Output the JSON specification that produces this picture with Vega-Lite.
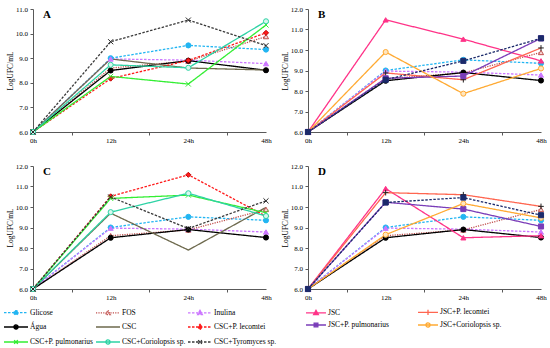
{
"$schema": "https://vega.github.io/schema/vega-lite/v6.json",
"padding": {"left": 6, "top": 5, "right": 5, "bottom": 0},
"background": "white",
"datasets": {"d": [
{"p":"all","s":"Glicose","h":"0h","v":6},{"p":"all","s":"Glicose","h":"12h","v":9.0},{"p":"all","s":"Glicose","h":"24h","v":9.52},{"p":"all","s":"Glicose","h":"48h","v":9.35},
{"p":"all","s":"FOS","h":"0h","v":6},{"p":"all","s":"FOS","h":"12h","v":8.6},{"p":"all","s":"FOS","h":"24h","v":8.88},{"p":"all","s":"FOS","h":"48h","v":9.88},
{"p":"all","s":"Inulina","h":"0h","v":6},{"p":"all","s":"Inulina","h":"12h","v":8.97},{"p":"all","s":"Inulina","h":"24h","v":8.92},{"p":"all","s":"Inulina","h":"48h","v":8.78},
{"p":"all","s":"Água","h":"0h","v":6},{"p":"all","s":"Água","h":"12h","v":8.5},{"p":"all","s":"Água","h":"24h","v":8.9},{"p":"all","s":"Água","h":"48h","v":8.51},
{"p":"A","s":"CSC","h":"0h","v":6},{"p":"A","s":"CSC","h":"12h","v":8.97},{"p":"A","s":"CSC","h":"24h","v":8.6},{"p":"A","s":"CSC","h":"48h","v":8.52},
{"p":"A","s":"CSC+P. lecomtei","h":"0h","v":6},{"p":"A","s":"CSC+P. lecomtei","h":"12h","v":8.17},{"p":"A","s":"CSC+P. lecomtei","h":"24h","v":8.91},{"p":"A","s":"CSC+P. lecomtei","h":"48h","v":10.03},
{"p":"A","s":"CSC+P. pulmonarius","h":"0h","v":6},{"p":"A","s":"CSC+P. pulmonarius","h":"12h","v":8.26},{"p":"A","s":"CSC+P. pulmonarius","h":"24h","v":7.95},{"p":"A","s":"CSC+P. pulmonarius","h":"48h","v":10.35},
{"p":"A","s":"CSC+Coriolopsis sp.","h":"0h","v":6},{"p":"A","s":"CSC+Coriolopsis sp.","h":"12h","v":8.73},{"p":"A","s":"CSC+Coriolopsis sp.","h":"24h","v":8.61},{"p":"A","s":"CSC+Coriolopsis sp.","h":"48h","v":10.5},
{"p":"A","s":"CSC+Tyromyces sp.","h":"0h","v":6},{"p":"A","s":"CSC+Tyromyces sp.","h":"12h","v":9.67},{"p":"A","s":"CSC+Tyromyces sp.","h":"24h","v":10.55},{"p":"A","s":"CSC+Tyromyces sp.","h":"48h","v":9.51},
{"p":"C","s":"CSC","h":"0h","v":6},{"p":"C","s":"CSC","h":"12h","v":9.7},{"p":"C","s":"CSC","h":"24h","v":7.9},{"p":"C","s":"CSC","h":"48h","v":9.98},
{"p":"C","s":"CSC+P. lecomtei","h":"0h","v":6},{"p":"C","s":"CSC+P. lecomtei","h":"12h","v":10.52},{"p":"C","s":"CSC+P. lecomtei","h":"24h","v":11.57},{"p":"C","s":"CSC+P. lecomtei","h":"48h","v":9.55},
{"p":"C","s":"CSC+P. pulmonarius","h":"0h","v":6},{"p":"C","s":"CSC+P. pulmonarius","h":"12h","v":10.42},{"p":"C","s":"CSC+P. pulmonarius","h":"24h","v":10.58},{"p":"C","s":"CSC+P. pulmonarius","h":"48h","v":9.72},
{"p":"C","s":"CSC+Coriolopsis sp.","h":"0h","v":6},{"p":"C","s":"CSC+Coriolopsis sp.","h":"12h","v":9.75},{"p":"C","s":"CSC+Coriolopsis sp.","h":"24h","v":10.67},{"p":"C","s":"CSC+Coriolopsis sp.","h":"48h","v":9.56},
{"p":"C","s":"CSC+Tyromyces sp.","h":"0h","v":6},{"p":"C","s":"CSC+Tyromyces sp.","h":"12h","v":10.49},{"p":"C","s":"CSC+Tyromyces sp.","h":"24h","v":8.95},{"p":"C","s":"CSC+Tyromyces sp.","h":"48h","v":10.3},
{"p":"B","s":"JSC","h":"0h","v":6},{"p":"B","s":"JSC","h":"12h","v":11.47},{"p":"B","s":"JSC","h":"24h","v":10.53},{"p":"B","s":"JSC","h":"48h","v":9.47},
{"p":"B","s":"JSC+P. lecomtei","h":"0h","v":6},{"p":"B","s":"JSC+P. lecomtei","h":"12h","v":8.88},{"p":"B","s":"JSC+P. lecomtei","h":"24h","v":8.55},{"p":"B","s":"JSC+P. lecomtei","h":"48h","v":10.1},
{"p":"B","s":"JSC+P. pulmonarius","h":"0h","v":6},{"p":"B","s":"JSC+P. pulmonarius","h":"12h","v":8.62},{"p":"B","s":"JSC+P. pulmonarius","h":"24h","v":8.73},{"p":"B","s":"JSC+P. pulmonarius","h":"48h","v":10.57},
{"p":"B","s":"JSC+Coriolopsis sp.","h":"0h","v":6},{"p":"B","s":"JSC+Coriolopsis sp.","h":"12h","v":9.9},{"p":"B","s":"JSC+Coriolopsis sp.","h":"24h","v":7.87},{"p":"B","s":"JSC+Coriolopsis sp.","h":"48h","v":9.1},
{"p":"B","s":"JSC+Tyromyces sp.","h":"0h","v":6},{"p":"B","s":"JSC+Tyromyces sp.","h":"12h","v":8.55},{"p":"B","s":"JSC+Tyromyces sp.","h":"24h","v":9.47},{"p":"B","s":"JSC+Tyromyces sp.","h":"48h","v":10.57},
{"p":"D","s":"JSC","h":"0h","v":6},{"p":"D","s":"JSC","h":"12h","v":10.9},{"p":"D","s":"JSC","h":"24h","v":8.5},{"p":"D","s":"JSC","h":"48h","v":8.6},
{"p":"D","s":"JSC+P. lecomtei","h":"0h","v":6},{"p":"D","s":"JSC+P. lecomtei","h":"12h","v":10.7},{"p":"D","s":"JSC+P. lecomtei","h":"24h","v":10.6},{"p":"D","s":"JSC+P. lecomtei","h":"48h","v":10.03},
{"p":"D","s":"JSC+P. pulmonarius","h":"0h","v":6},{"p":"D","s":"JSC+P. pulmonarius","h":"12h","v":10.23},{"p":"D","s":"JSC+P. pulmonarius","h":"24h","v":9.9},{"p":"D","s":"JSC+P. pulmonarius","h":"48h","v":9.05},
{"p":"D","s":"JSC+Coriolopsis sp.","h":"0h","v":6},{"p":"D","s":"JSC+Coriolopsis sp.","h":"12h","v":8.65},{"p":"D","s":"JSC+Coriolopsis sp.","h":"24h","v":10.17},{"p":"D","s":"JSC+Coriolopsis sp.","h":"48h","v":9.47},
{"p":"D","s":"JSC+Tyromyces sp.","h":"0h","v":6},{"p":"D","s":"JSC+Tyromyces sp.","h":"12h","v":10.22},{"p":"D","s":"JSC+Tyromyces sp.","h":"24h","v":10.46},{"p":"D","s":"JSC+Tyromyces sp.","h":"48h","v":9.6}
]},
"data": {"name": "d"},
"columns": 2,
"spacing": {"row": 34, "column": 42},
"bounds": "flush",
"resolve": {"scale": {"color": "independent", "stroke": "independent", "fill": "independent", "shape": "independent", "strokeDash": "independent", "x": "independent", "y": "independent"}},
"concat": [
{
 "width": 233, "height": 123,
 "title": {"text": "A"},
 "transform": [{"filter": "datum.p === 'A' || datum.p === 'all'"}],
 "encoding": {
  "x": {"field": "h", "type": "ordinal", "sort": ["0h","12h","24h","48h"], "scale": {"type": "point", "padding": 0}, "axis": {"title": null, "labelAngle": 0, "tickOffset": 38.83, "labelOffset": -38.83, "tickOpacity": {"condition": {"test": "datum.value === '48h'", "value": 0}, "value": 1}}},
  "y": {"field": "v", "type": "quantitative", "scale": {"domain": [6, 11], "nice": false, "zero": false}, "axis": {"title": "LogUFC/mL", "values": [6,7,8,9,10,11], "format": ".1f"}}
 },
 "layer": [
  {"mark": {"type": "line", "strokeWidth": 1.3},
   "encoding": {
    "color": {"field": "s", "type": "nominal", "legend": null, "scale": {"domain": ["Glicose","FOS","Inulina","Água","CSC","CSC+P. lecomtei","CSC+P. pulmonarius","CSC+Coriolopsis sp.","CSC+Tyromyces sp."], "range": ["#22B5F2","#C0504D","#CC77FF","#000000","#6E6A4E","#FF1A1A","#33EE33","#2ED3A5","#3A3A3A"]}},
    "strokeDash": {"field": "s", "type": "nominal", "legend": null, "scale": {"domain": ["CSC+Tyromyces sp.","CSC+Coriolopsis sp.","CSC+P. pulmonarius","CSC+P. lecomtei","CSC","Água","Inulina","FOS","Glicose"], "range": [[2.5,1.5],[1,0],[1,0],[2.5,1.5],[1,0],[1,0],[2.5,1.5],[1.2,1.2],[2.5,1.5]]}}
   }},
  {"transform": [{"filter": "datum.s !== 'CSC'"}],
   "mark": {"type": "point", "size": 26, "strokeWidth": 1, "opacity": 1},
   "encoding": {
    "shape": {"field": "s", "type": "nominal", "legend": null, "scale": {"domain": ["CSC+Tyromyces sp.","CSC+Coriolopsis sp.","CSC+P. pulmonarius","CSC+P. lecomtei","CSC","Água","Inulina","FOS","Glicose"], "range": ["M-1,-1L1,1M-1,1L1,-1","circle","M-1,-1L1,1M-1,1L1,-1","diamond","circle","circle","triangle-up","triangle-up","circle"]}},
    "fill": {"field": "s", "type": "nominal", "legend": null, "scale": {"domain": ["CSC+Tyromyces sp.","CSC+Coriolopsis sp.","CSC+P. pulmonarius","CSC+P. lecomtei","CSC","Água","Inulina","FOS","Glicose"], "range": ["transparent","#D8F7EE","transparent","#FF1A1A","transparent","#000000","#CC77FF","#F6DADA","#22B5F2"]}},
    "stroke": {"field": "s", "type": "nominal", "legend": null, "scale": {"domain": ["CSC+Tyromyces sp.","CSC+Coriolopsis sp.","CSC+P. pulmonarius","CSC+P. lecomtei","CSC","Água","Inulina","FOS","Glicose"], "range": ["#2A2A2A","#2ED3A5","#33EE33","#C00000","#6E6A4E","#000000","#CC77FF","#C0504D","#22B5F2"]}}
   }}
 ]
},
{
 "width": 233, "height": 123,
 "title": {"text": "B"},
 "transform": [{"filter": "datum.p === 'B' || datum.p === 'all'"}],
 "encoding": {
  "x": {"field": "h", "type": "ordinal", "sort": ["0h","12h","24h","48h"], "scale": {"type": "point", "padding": 0}, "axis": {"title": null, "labelAngle": 0, "tickOffset": 38.83, "labelOffset": -38.83, "tickOpacity": {"condition": {"test": "datum.value === '48h'", "value": 0}, "value": 1}}},
  "y": {"field": "v", "type": "quantitative", "scale": {"domain": [6, 12], "nice": false, "zero": false}, "axis": {"title": "LogUFC/mL", "values": [6,7,8,9,10,11,12], "format": ".1f"}}
 },
 "layer": [
  {"mark": {"type": "line", "strokeWidth": 1.3},
   "encoding": {
    "color": {"field": "s", "type": "nominal", "legend": null, "scale": {"domain": ["Glicose","FOS","Inulina","Água","JSC","JSC+P. lecomtei","JSC+P. pulmonarius","JSC+Coriolopsis sp.","JSC+Tyromyces sp."], "range": ["#22B5F2","#C0504D","#CC77FF","#000000","#FF3388","#FF6650","#7A3DB8","#FFAA33","#1B2A6B"]}},
    "strokeDash": {"field": "s", "type": "nominal", "legend": null, "scale": {"domain": ["JSC+Tyromyces sp.","JSC+Coriolopsis sp.","JSC+P. pulmonarius","JSC+P. lecomtei","JSC","Água","Inulina","FOS","Glicose"], "range": [[2.5,1.5],[1,0],[1,0],[1,0],[1,0],[1,0],[2.5,1.5],[1.2,1.2],[2.5,1.5]]}}
   }},
  {"mark": {"type": "point", "size": 26, "strokeWidth": 1, "opacity": 1},
   "encoding": {
    "shape": {"field": "s", "type": "nominal", "legend": null, "scale": {"domain": ["JSC+Tyromyces sp.","JSC+Coriolopsis sp.","JSC+P. pulmonarius","JSC+P. lecomtei","JSC","Água","Inulina","FOS","Glicose"], "range": ["square","circle","square","M-1.1,0H1.1M0,-1.1V1.1","triangle-up","circle","triangle-up","triangle-up","circle"]}},
    "fill": {"field": "s", "type": "nominal", "legend": null, "scale": {"domain": ["JSC+Tyromyces sp.","JSC+Coriolopsis sp.","JSC+P. pulmonarius","JSC+P. lecomtei","JSC","Água","Inulina","FOS","Glicose"], "range": ["#1B2A6B","#FFE6C0","#7A3DB8","transparent","#FF3388","#000000","#CC77FF","#F6DADA","#22B5F2"]}},
    "stroke": {"field": "s", "type": "nominal", "legend": null, "scale": {"domain": ["JSC+Tyromyces sp.","JSC+Coriolopsis sp.","JSC+P. pulmonarius","JSC+P. lecomtei","JSC","Água","Inulina","FOS","Glicose"], "range": ["#1B2A6B","#FFAA33","#7A3DB8","#222222","#FF3388","#000000","#CC77FF","#C0504D","#22B5F2"]}}
   }}
 ]
},
{
 "width": 233, "height": 123,
 "title": {"text": "C"},
 "transform": [{"filter": "datum.p === 'C' || datum.p === 'all'"}],
 "encoding": {
  "x": {"field": "h", "type": "ordinal", "sort": ["0h","12h","24h","48h"], "scale": {"type": "point", "padding": 0}, "axis": {"title": null, "labelAngle": 0, "tickOffset": 38.83, "labelOffset": -38.83, "tickOpacity": {"condition": {"test": "datum.value === '48h'", "value": 0}, "value": 1}}},
  "y": {"field": "v", "type": "quantitative", "scale": {"domain": [6, 12], "nice": false, "zero": false}, "axis": {"title": "LogUFC/mL", "values": [6,7,8,9,10,11,12], "format": ".1f"}}
 },
 "layer": [
  {"mark": {"type": "line", "strokeWidth": 1.3},
   "encoding": {
    "color": {"field": "s", "type": "nominal",
     "legend": {"orient": "none", "legendX": -21, "legendY": 142, "direction": "horizontal", "columns": 3, "title": null, "symbolSize": 36, "symbolStrokeWidth": 1.3, "labelOffset": 10, "rowPadding": 3, "columnPadding": -1, "gridAlign": "all", "padding": 0,
      "encode": {"symbols": {"update": {
       "shape": {"signal": "({'Glicose':'M-4,0H4M-0.7,0A0.7,0.7 0 1,0 0.7,0A0.7,0.7 0 1,0 -0.7,0Z','FOS':'M-4,0H4M0,-0.85L0.78,0.55L-0.78,0.55Z','Inulina':'M-4,0H4M0,-0.85L0.78,0.55L-0.78,0.55Z','Água':'M-4,0H4M-0.7,0A0.7,0.7 0 1,0 0.7,0A0.7,0.7 0 1,0 -0.7,0Z','CSC':'M-4,0H4','CSC+P. lecomtei':'M-4,0H4M0,-0.9L0.65,0L0,0.9L-0.65,0Z','CSC+P. pulmonarius':'M-4,0H4M-0.62,-0.62L0.62,0.62M-0.62,0.62L0.62,-0.62','CSC+Coriolopsis sp.':'M-4,0H4M-0.7,0A0.7,0.7 0 1,0 0.7,0A0.7,0.7 0 1,0 -0.7,0Z','CSC+Tyromyces sp.':'M-4,0H4M-0.62,-0.62L0.62,0.62M-0.62,0.62L0.62,-0.62'})[datum.value]"},
       "fill": {"signal": "({'Glicose':'#22B5F2','FOS':'#F6DADA','Inulina':'#CC77FF','Água':'#000000','CSC':'transparent','CSC+P. lecomtei':'#FF1A1A','CSC+P. pulmonarius':'transparent','CSC+Coriolopsis sp.':'#D8F7EE','CSC+Tyromyces sp.':'transparent'})[datum.value]"},
       "strokeDash": {"signal": "({'Glicose':[2.5,1.5],'FOS':[1.2,1.2],'Inulina':[2.5,1.5],'CSC+P. lecomtei':[2.5,1.5],'CSC+Tyromyces sp.':[2.5,1.5]})[datum.value] || [1,0]"}
      }}}},
     "scale": {"domain": ["Glicose","FOS","Inulina","Água","CSC","CSC+P. lecomtei","CSC+P. pulmonarius","CSC+Coriolopsis sp.","CSC+Tyromyces sp."], "range": ["#22B5F2","#C0504D","#CC77FF","#000000","#6E6A4E","#FF1A1A","#33EE33","#2ED3A5","#3A3A3A"]}},
    "strokeDash": {"field": "s", "type": "nominal", "legend": null, "scale": {"domain": ["CSC+Tyromyces sp.","CSC+Coriolopsis sp.","CSC+P. pulmonarius","CSC+P. lecomtei","CSC","Água","Inulina","FOS","Glicose"], "range": [[2.5,1.5],[1,0],[1,0],[2.5,1.5],[1,0],[1,0],[2.5,1.5],[1.2,1.2],[2.5,1.5]]}}
   }},
  {"transform": [{"filter": "datum.s !== 'CSC'"}],
   "mark": {"type": "point", "size": 26, "strokeWidth": 1, "opacity": 1},
   "encoding": {
    "shape": {"field": "s", "type": "nominal", "legend": null, "scale": {"domain": ["CSC+Tyromyces sp.","CSC+Coriolopsis sp.","CSC+P. pulmonarius","CSC+P. lecomtei","CSC","Água","Inulina","FOS","Glicose"], "range": ["M-1,-1L1,1M-1,1L1,-1","circle","M-1,-1L1,1M-1,1L1,-1","diamond","circle","circle","triangle-up","triangle-up","circle"]}},
    "fill": {"field": "s", "type": "nominal", "legend": null, "scale": {"domain": ["CSC+Tyromyces sp.","CSC+Coriolopsis sp.","CSC+P. pulmonarius","CSC+P. lecomtei","CSC","Água","Inulina","FOS","Glicose"], "range": ["transparent","#D8F7EE","transparent","#FF1A1A","transparent","#000000","#CC77FF","#F6DADA","#22B5F2"]}},
    "stroke": {"field": "s", "type": "nominal", "legend": null, "scale": {"domain": ["CSC+Tyromyces sp.","CSC+Coriolopsis sp.","CSC+P. pulmonarius","CSC+P. lecomtei","CSC","Água","Inulina","FOS","Glicose"], "range": ["#2A2A2A","#2ED3A5","#33EE33","#C00000","#6E6A4E","#000000","#CC77FF","#C0504D","#22B5F2"]}}
   }}
 ]
},
{
 "width": 233, "height": 123,
 "title": {"text": "D"},
 "transform": [{"filter": "datum.p === 'D' || datum.p === 'all'"}],
 "encoding": {
  "x": {"field": "h", "type": "ordinal", "sort": ["0h","12h","24h","48h"], "scale": {"type": "point", "padding": 0}, "axis": {"title": null, "labelAngle": 0, "tickOffset": 38.83, "labelOffset": -38.83, "tickOpacity": {"condition": {"test": "datum.value === '48h'", "value": 0}, "value": 1}}},
  "y": {"field": "v", "type": "quantitative", "scale": {"domain": [6, 12], "nice": false, "zero": false}, "axis": {"title": "LogUFC/mL", "values": [6,7,8,9,10,11,12], "format": ".1f"}}
 },
 "layer": [
  {"mark": {"type": "line", "strokeWidth": 1.3},
   "encoding": {
    "color": {"field": "s", "type": "nominal",
     "legend": {"orient": "none", "legendX": 4, "legendY": 142, "direction": "horizontal", "columns": 2, "title": null, "values": ["JSC","JSC+P. lecomtei","JSC+P. pulmonarius","JSC+Coriolopsis sp."], "symbolSize": 36, "symbolStrokeWidth": 1.3, "labelOffset": 8, "rowPadding": 2, "columnPadding": 25, "gridAlign": "all", "padding": 0,
      "encode": {"symbols": {"update": {
       "shape": {"signal": "({'JSC':'M-3.33,0H3.33M0,-0.85L0.78,0.55L-0.78,0.55Z','JSC+P. lecomtei':'M-3.33,0H3.33M-0.8,0H0.8M0,-0.85V0.85','JSC+P. pulmonarius':'M-3.33,0H3.33M-0.62,-0.62H0.62V0.62H-0.62Z','JSC+Coriolopsis sp.':'M-3.33,0H3.33M-0.7,0A0.7,0.7 0 1,0 0.7,0A0.7,0.7 0 1,0 -0.7,0Z'})[datum.value]"},
       "fill": {"signal": "({'JSC':'#FF3388','JSC+P. lecomtei':'transparent','JSC+P. pulmonarius':'#7A3DB8','JSC+Coriolopsis sp.':'#FFE6C0'})[datum.value]"},
       "strokeDash": {"value": [1,0]}
      }}}},
     "scale": {"domain": ["Glicose","FOS","Inulina","Água","JSC","JSC+P. lecomtei","JSC+P. pulmonarius","JSC+Coriolopsis sp.","JSC+Tyromyces sp."], "range": ["#22B5F2","#C0504D","#CC77FF","#000000","#FF3388","#FF6650","#7A3DB8","#FFAA33","#1B2A6B"]}},
    "strokeDash": {"field": "s", "type": "nominal", "legend": null, "scale": {"domain": ["JSC+Tyromyces sp.","JSC+Coriolopsis sp.","JSC+P. pulmonarius","JSC+P. lecomtei","JSC","Água","Inulina","FOS","Glicose"], "range": [[2.5,1.5],[1,0],[1,0],[1,0],[1,0],[1,0],[2.5,1.5],[1.2,1.2],[2.5,1.5]]}}
   }},
  {"mark": {"type": "point", "size": 26, "strokeWidth": 1, "opacity": 1},
   "encoding": {
    "shape": {"field": "s", "type": "nominal", "legend": null, "scale": {"domain": ["JSC+Tyromyces sp.","JSC+Coriolopsis sp.","JSC+P. pulmonarius","JSC+P. lecomtei","JSC","Água","Inulina","FOS","Glicose"], "range": ["square","circle","square","M-1.1,0H1.1M0,-1.1V1.1","triangle-up","circle","triangle-up","triangle-up","circle"]}},
    "fill": {"field": "s", "type": "nominal", "legend": null, "scale": {"domain": ["JSC+Tyromyces sp.","JSC+Coriolopsis sp.","JSC+P. pulmonarius","JSC+P. lecomtei","JSC","Água","Inulina","FOS","Glicose"], "range": ["#1B2A6B","#FFE6C0","#7A3DB8","transparent","#FF3388","#000000","#CC77FF","#F6DADA","#22B5F2"]}},
    "stroke": {"field": "s", "type": "nominal", "legend": null, "scale": {"domain": ["JSC+Tyromyces sp.","JSC+Coriolopsis sp.","JSC+P. pulmonarius","JSC+P. lecomtei","JSC","Água","Inulina","FOS","Glicose"], "range": ["#1B2A6B","#FFAA33","#7A3DB8","#222222","#FF3388","#000000","#CC77FF","#C0504D","#22B5F2"]}}
   }}
 ]
}
],
"config": {
 "view": {"stroke": null},
 "font": "Liberation Serif",
 "axis": {"labelFont": "Liberation Serif", "labelFontSize": 7, "labelColor": "#000000", "titleFont": "Liberation Serif", "titleFontSize": 7.5, "titleFontWeight": "normal", "titleColor": "#000000", "domainColor": "#595959", "tickColor": "#595959", "tickSize": 3, "grid": false},
 "axisX": {"labelPadding": 1.5},
 "axisY": {"labelPadding": 2.5, "titlePadding": 1},
 "legend": {"labelFont": "Liberation Serif", "labelFontSize": 7.5, "labelColor": "#000000"},
 "title": {"anchor": "start", "frame": "group", "offset": -14.5, "dx": 10, "baseline": "alphabetic", "font": "Liberation Serif", "fontSize": 11, "fontWeight": "bold", "color": "#000000"}
}
}
